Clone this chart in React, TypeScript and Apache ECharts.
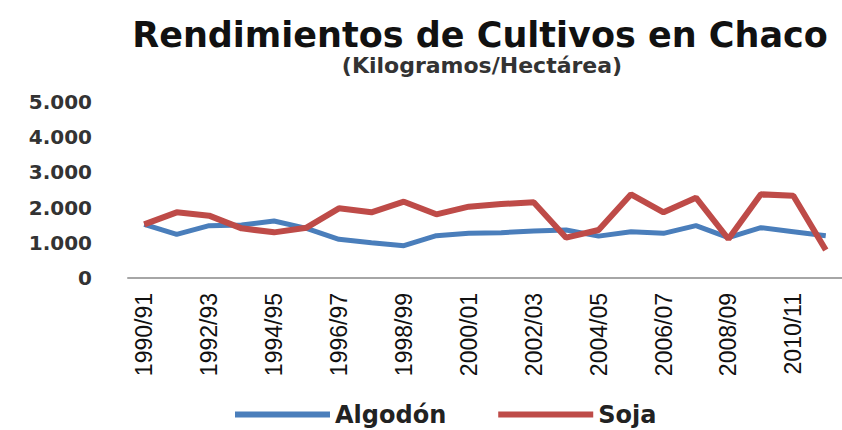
import React, { useEffect, useRef } from "react";
import * as echarts from "echarts";

const categories = [
  "1990/91", "1991/92", "1992/93", "1993/94", "1994/95", "1995/96", "1996/97", "1997/98",
  "1998/99", "1999/00", "2000/01", "2001/02", "2002/03", "2003/04", "2004/05", "2005/06",
  "2006/07", "2007/08", "2008/09", "2009/10", "2010/11", "2011/12",
];
const algodon = [
  1525, 1240, 1487, 1506, 1620, 1410, 1098, 1004, 918, 1203, 1269, 1288, 1335, 1364, 1190,
  1316, 1269, 1487, 1146, 1430, 1316, 1203,
];
const soja = [
  1525, 1865, 1771, 1411, 1297, 1430, 1979, 1865, 2168, 1809, 2026, 2102, 2150, 1146, 1364,
  2377, 1865, 2282, 1108, 2377, 2339, 795,
];
const yTicks = { min: 0, max: 5000, interval: 1000 };

export default function App() {
  const ref = useRef<HTMLDivElement>(null);
  useEffect(() => {
    const chart = echarts.init(ref.current!, null, { renderer: "svg" });
    chart.setOption({
      animation: false,
      backgroundColor: "#ffffff",
      title: [
        {
          text: "Rendimientos de Cultivos en Chaco",
          left: 475,
          top: 12,
          textAlign: "center",
          textStyle: { fontFamily: "DejaVu Sans", fontWeight: "bold", fontSize: 35, lineHeight: 35, color: "#111" },
        },
        {
          text: "(Kilogramos/Hectárea)",
          left: 477,
          top: 49,
          textAlign: "center",
          textStyle: { fontFamily: "DejaVu Sans", fontWeight: "bold", fontSize: 22, lineHeight: 22, color: "#333" },
        },
      ],
      legend: {
        top: 402,
        left: 235,
        padding: 0,
        icon: "rect",
        itemWidth: 95,
        itemHeight: 6,
        itemGap: 52,
        textStyle: { fontFamily: "DejaVu Sans", fontWeight: "bold", fontSize: 24, lineHeight: 25, color: "#222" },
        data: ["Algodón", "Soja"],
      },
      grid: { left: 128, right: -5, top: 102, bottom: 152 },
      xAxis: {
        type: "category",
        data: categories,
        boundaryGap: true,
        axisLine: { lineStyle: { color: "#a6a6a6", width: 2 } },
        axisTick: { show: false },
        axisLabel: {
          interval: 1,
          rotate: 90,
          margin: 15,
          fontFamily: "Liberation Sans",
          fontSize: 23,
          color: "#111",
        },
        splitLine: { show: false },
      },
      yAxis: {
        type: "value",
        min: yTicks.min,
        max: yTicks.max,
        interval: yTicks.interval,
        axisLine: { show: false },
        axisTick: { show: false },
        splitLine: { show: false },
        axisLabel: {
          margin: 36,
          fontFamily: "DejaVu Sans",
          fontWeight: "bold",
          fontSize: 20,
          color: "#333",
          formatter: (v: number) => (v === 0 ? "0" : v.toLocaleString("de-DE")),
        },
      },
      series: [
        {
          name: "Algodón",
          type: "line",
          data: algodon,
          showSymbol: false,
          symbol: "none",
          color: "#4a7ebb",
          lineStyle: { width: 5, color: "#4a7ebb" },
        },
        {
          name: "Soja",
          type: "line",
          data: soja,
          showSymbol: false,
          symbol: "none",
          color: "#be4b48",
          lineStyle: { width: 6, color: "#be4b48" },
        },
      ],
    });
    return () => chart.dispose();
  }, []);
  return (
    <div
      ref={ref}
      style={{ position: "fixed", left: 0, top: 0, width: 842, height: 430 }}
    />
  );
}
